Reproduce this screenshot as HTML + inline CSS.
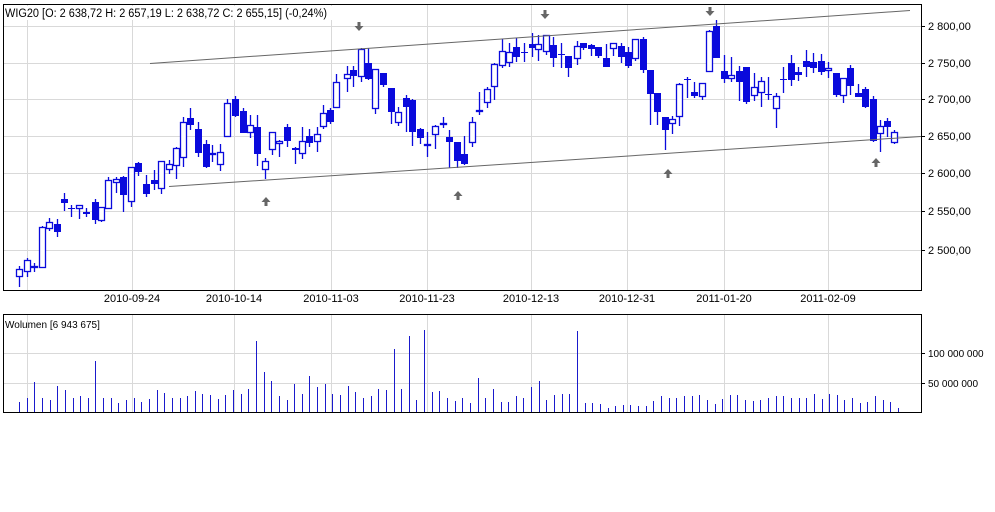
<!DOCTYPE html>
<html><head><meta charset="utf-8"><style>
html,body{margin:0;padding:0;background:#fff;width:995px;height:512px;overflow:hidden}
svg{display:block;font-family:"Liberation Sans",Arial,sans-serif}
</style></head><body>
<svg id="s" width="995" height="512" viewBox="0 0 995 512" xmlns="http://www.w3.org/2000/svg">
<rect width="995" height="512" fill="#fff"/>
<g id="grid" stroke="#d9d9d9" stroke-width="1" shape-rendering="crispEdges"></g>
<g id="c"></g>
<g id="v" stroke="#1a1acc" stroke-width="1" shape-rendering="crispEdges"></g>
<g stroke="#666" stroke-width="1" fill="none">
<line x1="150" y1="63.5" x2="910" y2="10.5"/>
<line x1="169" y1="186.5" x2="921" y2="136.5"/>
</g>
<g id="arr" fill="#666"></g>
<rect x="3.5" y="4.5" width="918" height="286" fill="none" stroke="#000" shape-rendering="crispEdges"/>
<rect x="3.5" y="314.5" width="918" height="98" fill="none" stroke="#000" shape-rendering="crispEdges"/>
<rect x="4" y="6" width="328" height="14" fill="#fff"/>
<text x="5" y="17" font-size="11.5" fill="#000" textLength="322" lengthAdjust="spacingAndGlyphs">WIG20 [O: 2 638,72  H: 2 657,19  L: 2 638,72  C: 2 655,15] (-0,24%)</text>
<text x="5" y="328" font-size="10" fill="#000">Wolumen [6 943 675]</text>
<g id="lab" font-size="11" fill="#000"></g>
</svg>
<script>
var NS="http://www.w3.org/2000/svg";
function el(p,t,a,txt){var e=document.createElementNS(NS,t);for(var k in a)e.setAttribute(k,a[k]);if(txt!=null)e.textContent=txt;document.getElementById(p).appendChild(e);return e;}
var gx=[27,132,234,331,427,531,627,724,828];
var dl={132:"2010-09-24",234:"2010-10-14",331:"2010-11-03",427:"2010-11-23",531:"2010-12-13",627:"2010-12-31",724:"2011-01-20",828:"2011-02-09"};
gx.forEach(function(x){el("grid","line",{x1:x+.5,y1:5,x2:x+.5,y2:290});el("grid","line",{x1:x+.5,y1:315,x2:x+.5,y2:412});
 if(dl[x])el("lab","text",{x:x,y:302,"text-anchor":"middle","font-size":"11"},dl[x]);});
var py=[[26,"2 800,00"],[63,"2 750,00"],[99,"2 700,00"],[136,"2 650,00"],[173,"2 600,00"],[211,"2 550,00"],[250,"2 500,00"]];
py.forEach(function(p){el("grid","line",{x1:4,y1:p[0]+.5,x2:921,y2:p[0]+.5});el("grid","line",{x1:921,y1:p[0]+.5,x2:925,y2:p[0]+.5,stroke:"#000"});el("lab","text",{x:928,y:p[0]+4},p[1]);});
[[353,"100 000 000"],[383,"50 000 000"]].forEach(function(p){el("grid","line",{x1:4,y1:p[0]+.5,x2:921,y2:p[0]+.5});el("grid","line",{x1:921,y1:p[0]+.5,x2:925,y2:p[0]+.5,stroke:"#000"});el("lab","text",{x:928,y:p[0]+4,"font-size":"10"},p[1]);});
var C=[[19,266,287,269,277,0],[27,258,277,260,272,0],[34,263,272,266,267,0],[42,226,268,227,268,0],[49,218,231,222,229,0],[57,219,237,224,232,1],[64,193,211,199,203,1],[71,205,217,208,209,1],[79,205,219,205,209,0],[86,208,217,212,214,1],[95,199,224,202,220,1],[101,207,222,207,221,0],[108,177,209,180,209,0],[116,177,193,179,183,0],[123,176,212,177,195,1],[131,167,207,167,202,0],[138,162,176,163,172,1],[146,175,197,184,194,1],[154,170,190,180,184,1],[161,161,194,161,189,0],[169,160,174,164,170,0],[176,147,179,148,166,0],[183,117,167,122,158,0],[190,108,130,118,125,1],[198,122,157,129,153,1],[206,140,168,144,167,1],[212,145,162,153,155,0],[220,144,171,152,165,0],[227,99,137,103,137,0],[235,96,117,99,116,1],[243,108,133,111,133,1],[250,115,138,125,133,0],[257,115,166,127,154,1],[265,158,179,161,170,0],[272,132,155,132,150,0],[279,140,157,141,144,0],[287,124,147,127,141,1],[295,147,164,148,150,1],[302,127,159,141,154,0],[309,129,147,136,143,1],[317,127,152,134,142,0],[323,105,129,113,127,0],[330,108,124,110,122,1],
[336,74,108,82,108,0],[347,66,92,74,79,0],[353,66,87,70,76,1],[361,48,82,49,77,0],[368,48,80,63,79,1],[375,69,114,69,109,0],[383,73,87,73,85,1],[391,88,124,88,112,1],[398,107,126,112,123,0],[406,95,132,98,107,1],[412,99,146,100,132,1],[420,128,144,129,138,1],[427,132,157,144,145,0],[435,125,149,126,135,0],[443,117,128,123,125,0],[449,130,168,137,142,1],[457,142,168,142,161,1],[464,136,165,154,164,1],[472,117,147,122,143,0],[479,92,115,110,112,0],[487,87,108,89,103,0],[494,63,100,64,87,0],[502,39,68,51,66,0],[509,43,67,52,63,0],[516,38,62,47,57,1],[524,43,62,52,53,1],[532,33,57,44,48,1],[538,35,61,44,50,0],[546,35,55,35,52,0],[553,37,67,45,58,1],[561,43,68,54,55,1],[568,56,77,56,68,1],[577,41,65,46,59,0],[583,43,50,43,48,1],[591,44,56,45,49,1],[598,47,58,47,56,1],[606,44,67,58,67,1],[613,43,56,43,49,0],[621,43,63,46,57,1],[628,47,68,52,66,1],[635,39,61,39,59,0],[643,37,73,39,70,1],[650,70,125,70,94,1],[657,93,125,93,112,1],
[665,117,150,117,130,1],[672,116,134,119,124,0],[679,83,126,84,117,0],[687,77,98,79,80,1],[694,82,98,92,96,1],[702,83,100,83,97,0],[709,30,72,31,72,0],[716,20,58,26,58,1],[724,55,83,71,79,1],[731,57,82,75,79,0],[739,66,101,71,82,1],[746,67,104,67,102,1],[754,73,101,87,96,0],[761,77,107,81,93,0],[768,77,100,94,95,1],[776,93,128,96,109,0],[783,67,93,79,80,1],[791,55,86,63,80,1],[798,67,81,72,75,1],[806,50,77,61,67,1],[813,53,73,62,68,1],[821,54,75,61,72,1],[828,62,78,68,71,0],[836,73,97,73,95,1],[843,78,103,78,96,0],[850,65,95,68,86,1],[858,84,97,93,97,1],[865,87,108,89,107,1],[873,96,142,99,141,1],[880,120,152,126,134,0],[887,118,137,121,127,1],[894,130,144,132,143,0]];
var B="#0a0adc";
C.forEach(function(c){var x=c[0];
 el("c","line",{x1:x+.5,y1:c[1],x2:x+.5,y2:c[2],stroke:B,"stroke-width":1.3});
 var h=Math.max(1,c[4]-c[3]);
 if(c[5])el("c","rect",{x:x-3,y:c[3],width:7,height:h,fill:B});
 else el("c","rect",{x:x-2.5,y:c[3]+.5,width:6,height:Math.max(1,h-1),fill:"#fff",stroke:B,"stroke-width":1.3});
});
var V=[10,14,30,14,12,26,22,14,16,14,51,14,14,9,12,14,10,13,22,19,14,14,16,21,18,17,13,17,22,18,23,71,40,31,16,12,28,18,36,25,28,18,17,26,20,14,16,23,22,63,23,76,12,82,20,21,14,11,14,9,34,14,23,10,10,16,14,25,31,12,17,18,18,81,9,9,8,4,6,7,7,6,6,11,16,14,14,16,16,17,12,8,13,17,17,12,11,12,14,16,16,14,14,14,18,13,18,17,12,14,9,10,16,12,10,4];
var n=V.length;
V.forEach(function(h,i){var x=Math.round(19+i*(898-19)/(n-1))+.5;el("v","line",{x1:x,y1:412,x2:x,y2:412-h});});
function arrow(x,y,down){var d;if(down)d="M"+(x-1.5)+","+(y-5)+"h3v4h3l-4.5,5l-4.5,-5h3z";else d="M"+(x-1.5)+","+(y+5)+"h3v-4h3l-4.5,-5l-4.5,5h3z";el("arr","path",{d:d});}
arrow(359,27,1);arrow(545,15,1);arrow(710,12,1);
arrow(266,201,0);arrow(458,195,0);arrow(668,173,0);arrow(876,162,0);
</script>
</body></html>
